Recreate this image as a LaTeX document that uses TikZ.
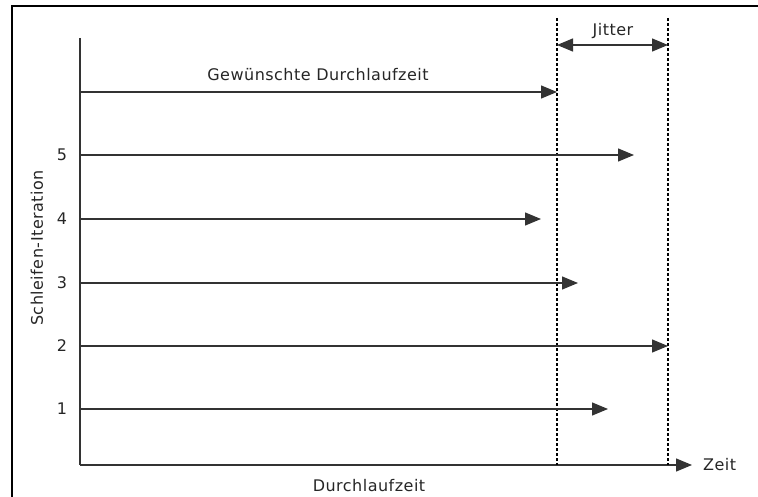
\documentclass[tikz,border=0pt]{standalone}
\usepackage{fontspec}
\setmainfont{DejaVu Sans}[LetterSpace=3]
\usetikzlibrary{arrows.meta}

\tikzset{
  line/.style={line width=1.3pt, draw=black!80},
  run/.style={line, -{Triangle[length=16pt,width=13pt]}},
  limit/.style={line width=1.2pt, dash pattern=on 3pt off 2pt},
  lbl/.style={inner sep=0pt, font=\fontsize{16}{18}\selectfont, text=black!85}
}

\begin{document}
\begin{tikzpicture}[x=1pt,y=-1pt]
        \useasboundingbox (0,0) rectangle (758,497);
        % frame
        \draw[line width=2pt] (12,497) -- (12,6) -- (758,6);
        % axes
        \coordinate (top) at (80,38);
        \coordinate (origin) at (80,465);
        \coordinate (xend) at (692,465);
        \draw[line] (top) -- (origin);
        \draw[run] (origin) -- (xend);
        \node[lbl, right=11pt] (zeit) at (xend) {Zeit};
        \node[lbl] (dlz) at (369,486) {Durchlaufzeit};
        \node[lbl, rotate=90] (iter) at (37,248) {Schleifen-Iteration};
        % jitter
        \coordinate (d1top) at (557,18);
        \coordinate (d1bot) at (557,465);
        \coordinate (d2top) at (668,18);
        \coordinate (d2bot) at (668,465);
        \draw[limit] (d1top) -- (d1bot);
        \draw[limit] (d2top) -- (d2bot);
        \coordinate (j1) at (557,45);
        \coordinate (j2) at (668,45);
        \draw[line, {Triangle[length=16pt,width=13pt]}-{Triangle[length=16pt,width=13pt]}] (j1) -- (j2);
        \node[lbl] (jitter) at (613,31) {Jitter};
        % iterations
        \coordinate (s0) at (80,92);  \coordinate (e0) at (557,92);
        \draw[run] (s0) -- (e0);
        \node[lbl] (soll) at (318,75) {Gewünschte Durchlaufzeit};
        \foreach \i/\y/\x in {5/155/634, 4/219/541, 3/283/578, 2/346/668, 1/409/608} {
          \coordinate (s\i) at (80,\y);
          \coordinate (e\i) at (\x,\y);
          \draw[run] (s\i) -- (e\i);
          \node[lbl] (n\i) at (62,\y) {\i};
        }
    \end{tikzpicture}
\end{document}
